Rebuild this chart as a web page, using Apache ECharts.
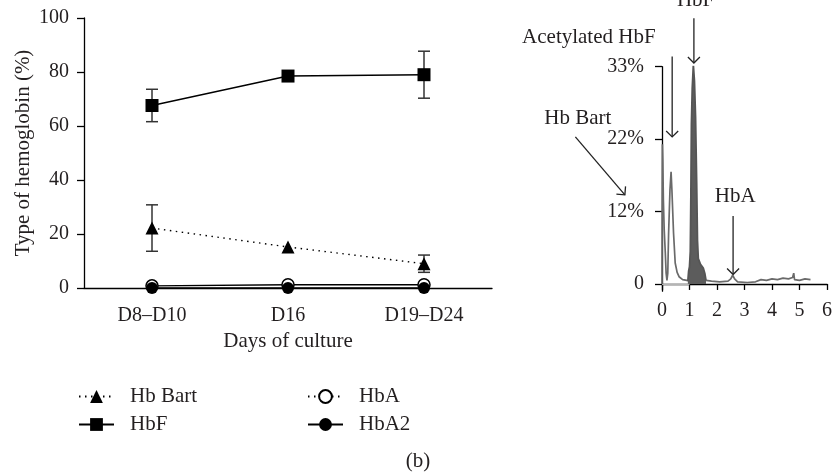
<!DOCTYPE html>
<html>
<head>
<meta charset="utf-8">
<script src="https://cdn.jsdelivr.net/npm/echarts@6/dist/echarts.min.js"></script>
<style>
  html, body { margin: 0; padding: 0; background: #fff; }
  #chart { width: 835px; height: 475px; }
</style>
</head>
<body>
<div id="chart"></div>
<script>
// Hemoglobin composition over the culture period (%)
const days = ['D8–D10', 'D16', 'D19–D24'];
const hbBart = [22.2, 15.2, 9.0];
const hbBartErr = [8.6, 0, 3.2];
const hbF = [67.6, 78.5, 79.0];
const hbFErr = [6.0, 0, 8.7];
const hbA = [0.8, 1.2, 1.2];
const hbA2 = [0, 0, 0];

// HPLC chromatogram (x: minutes, y: scale steps 0..3)
const peakScaleLabels = ['0', '12%', '22%', '33%'];
const traceEarly = [[0, 0], [0.005, 1.0], [0.015, 1.93], [0.03, 1.7], [0.05, 1.16], [0.08, 0.75],
  [0.12, 0.43], [0.15, 0.15], [0.18, 0.05], [0.21, 0.15], [0.24, 0.7], [0.29, 1.3], [0.33, 1.55],
  [0.36, 1.3], [0.42, 0.7], [0.48, 0.29], [0.55, 0.16], [0.62, 0.1], [0.75, 0.06], [0.9, 0.05], [0.94, 0.04]];
const traceHbF = [[0.94, 0.04], [0.97, 0.18], [1.0, 0.24], [1.03, 0.45], [1.05, 1.2], [1.07, 2.2],
  [1.1, 2.7], [1.14, 3.02], [1.18, 2.8], [1.22, 2.3], [1.26, 1.4], [1.29, 0.6], [1.32, 0.35],
  [1.4, 0.27], [1.5, 0.22], [1.56, 0.14], [1.6, 0.05]];
const traceLate = [[1.6, 0.05], [1.8, 0.04], [2.1, 0.03], [2.4, 0.04], [2.5, 0.07], [2.57, 0.12],
  [2.64, 0.07], [2.75, 0.03], [3.1, 0.02], [3.4, 0.03], [3.6, 0.06], [3.8, 0.05], [4.0, 0.07],
  [4.2, 0.06], [4.4, 0.08], [4.6, 0.07], [4.75, 0.09], [4.79, 0.15], [4.82, 0.06], [5.0, 0.05],
  [5.2, 0.07], [5.4, 0.06]];

// Peak labels and arrows, in chromatogram coordinates
const peakLabels = [
  { text: 'HbF', at: [1.22, 3.92] },
  { text: 'Acetylated HbF', at: [-2.66, 3.40] },
  { text: 'Hb Bart', at: [-3.06, 2.29] },
  { text: 'HbA', at: [2.66, 1.21] }
];
const peakArrows = [
  { from: [1.16, 3.67], to: [1.16, 3.05] },
  { from: [0.37, 3.14], to: [0.37, 2.03] },
  { from: [-3.15, 2.03], to: [-1.35, 1.23] },
  { from: [2.585, 0.94], to: [2.585, 0.13] }
];

const FONT = '"Liberation Serif", "Times New Roman", serif';
const INK = '#231f20';
const numText = { fontFamily: FONT, fontSize: 20, color: INK };
const wordText = { fontFamily: FONT, fontSize: 21, color: INK };

const errRows = [];
hbBart.forEach((v, i) => { if (hbBartErr[i] > 0) errRows.push([i, v, hbBartErr[i]]); });
hbF.forEach((v, i) => { if (hbFErr[i] > 0) errRows.push([i, v, hbFErr[i]]); });

function renderErrorBar(params, api) {
  const i = api.value(0), v = api.value(1), e = api.value(2);
  const top = api.coord([i, v + e]);
  const bot = api.coord([i, v - e]);
  const w = 6;
  const style = { stroke: '#333', lineWidth: 1.5 };
  return {
    type: 'group',
    children: [
      { type: 'line', shape: { x1: top[0], y1: top[1], x2: bot[0], y2: bot[1] }, style },
      { type: 'line', shape: { x1: top[0] - w, y1: top[1], x2: top[0] + w, y2: top[1] }, style },
      { type: 'line', shape: { x1: bot[0] - w, y1: bot[1], x2: bot[0] + w, y2: bot[1] }, style }
    ]
  };
}

const traceStyle = { color: '#6a6a6a', width: 1.7 };

const chart = echarts.init(document.getElementById('chart'));
chart.setOption({
  animation: false,
  backgroundColor: '#fff',
  textStyle: { fontFamily: FONT },
  grid: [
    { left: 84, top: 18, width: 408, height: 270 },
    { left: 662, top: 66.7, width: 167, height: 224.5 }
  ],
  xAxis: [
    {
      gridIndex: 0, type: 'category', data: days, boundaryGap: true,
      axisLine: { lineStyle: { color: '#000', width: 1.3 } },
      axisTick: { show: false },
      axisLabel: Object.assign({ margin: 18 }, numText),
      name: 'Days of culture', nameLocation: 'middle', nameGap: 43,
      nameTextStyle: wordText
    },
    {
      gridIndex: 1, type: 'value', min: 0, max: 6, interval: 1,
      axisLine: { lineStyle: { color: '#000', width: 1.3 } },
      axisTick: { show: true, length: 6, lineStyle: { color: '#000', width: 1.3 } },
      axisLabel: Object.assign({ margin: 10 }, numText),
      splitLine: { show: false }
    }
  ],
  yAxis: [
    {
      gridIndex: 0, type: 'value', min: 0, max: 100, interval: 20,
      axisLine: { show: true, lineStyle: { color: '#000', width: 1.3 } },
      axisTick: { show: true, length: 7, lineStyle: { color: '#000', width: 1.3 } },
      axisLabel: Object.assign({ margin: 15 }, numText),
      splitLine: { show: false },
      name: 'Type of hemoglobin (%)', nameLocation: 'middle', nameGap: 50,
      nameTextStyle: wordText
    },
    {
      gridIndex: 1, type: 'value', min: -0.1, max: 3,
      axisLine: { show: true, lineStyle: { color: '#000', width: 1.3 } },
      axisTick: { show: true, length: 7, customValues: [0, 1, 2, 3], lineStyle: { color: '#000', width: 1.3 } },
      axisLabel: Object.assign({
        margin: 18, customValues: [0, 1, 2, 3],
        formatter: v => peakScaleLabels[Math.round(v)]
      }, numText),
      splitLine: { show: false }
    }
  ],
  legend: [
    {
      data: [{ name: 'Hb Bart' }, { name: 'HbF' }],
      orient: 'vertical', left: 78, top: 386, padding: 0,
      itemWidth: 35, itemHeight: 16, itemGap: 7,
      textStyle: Object.assign({ padding: [0, 0, 0, 11] }, wordText)
    },
    {
      data: [{ name: 'HbA', lineStyle: { type: [1.5, 4.5] } }, { name: 'HbA2' }],
      orient: 'vertical', left: 307, top: 386, padding: 0,
      itemWidth: 35, itemHeight: 16, itemGap: 7,
      textStyle: Object.assign({ padding: [0, 0, 0, 11] }, wordText)
    }
  ],
  series: [
    {
      type: 'custom', name: 'error', xAxisIndex: 0, yAxisIndex: 0, z: 1,
      renderItem: renderErrorBar, data: errRows, silent: true
    },
    {
      name: 'Hb Bart', type: 'line', xAxisIndex: 0, yAxisIndex: 0, z: 3,
      data: hbBart, symbol: 'triangle', symbolSize: 13,
      itemStyle: { color: '#000' },
      lineStyle: { color: '#000', width: 1.4, type: [1.5, 4.5] }
    },
    {
      name: 'HbF', type: 'line', xAxisIndex: 0, yAxisIndex: 0, z: 3,
      data: hbF, symbol: 'rect', symbolSize: 13,
      itemStyle: { color: '#000' },
      lineStyle: { color: '#000', width: 1.4 }
    },
    {
      name: 'HbA', type: 'line', xAxisIndex: 0, yAxisIndex: 0, z: 3,
      data: hbA, symbol: 'circle', symbolSize: 12,
      itemStyle: { color: '#fff', borderColor: '#000', borderWidth: 1.5 },
      lineStyle: { color: '#000', width: 1.3 }
    },
    {
      name: 'HbA2', type: 'line', xAxisIndex: 0, yAxisIndex: 0, z: 4,
      data: hbA2, symbol: 'circle', symbolSize: 12,
      itemStyle: { color: '#000' },
      lineStyle: { color: '#000', width: 1.3 }
    },
    {
      type: 'line', xAxisIndex: 1, yAxisIndex: 1, data: traceEarly,
      symbol: 'none', lineStyle: traceStyle, silent: true,
      markLine: {
        silent: true, symbol: 'none', label: { show: false },
        lineStyle: { color: '#b5b5b5', width: 1.2, type: 'solid' },
        data: [[{ coord: [0, 0] }, { coord: [1.0, 0] }]]
      }
    },
    {
      type: 'line', xAxisIndex: 1, yAxisIndex: 1, data: traceHbF,
      symbol: 'none', lineStyle: { color: '#555', width: 1.8 }, silent: true,
      areaStyle: { color: '#5c5c5c', opacity: 1 }
    },
    {
      type: 'line', xAxisIndex: 1, yAxisIndex: 1, data: traceLate,
      symbol: 'none', lineStyle: traceStyle, silent: true
    }
  ]
});

// Peak annotations drawn on top of the chromatogram
function px(p) { return chart.convertToPixel({ gridIndex: 1 }, p); }
const rot = (x, y, th) => [x * Math.cos(th) - y * Math.sin(th), x * Math.sin(th) + y * Math.cos(th)];
const graphics = [];
peakLabels.forEach(l => {
  const p = px(l.at);
  graphics.push({
    type: 'text', x: p[0], y: p[1], silent: true,
    style: { text: l.text, font: '21px ' + FONT, fill: INK, align: 'center', verticalAlign: 'middle' }
  });
});
peakArrows.forEach(a => {
  const f = px(a.from), t = px(a.to);
  const dx = t[0] - f[0], dy = t[1] - f[1];
  const len = Math.hypot(dx, dy);
  const ux = dx / len, uy = dy / len;
  const L = 8.5, ang = Math.PI / 4;
  const a1 = rot(-ux, -uy, ang), a2 = rot(-ux, -uy, -ang);
  const style = { stroke: '#222', lineWidth: 1.3, fill: null };
  graphics.push({ type: 'line', silent: true, shape: { x1: f[0], y1: f[1], x2: t[0], y2: t[1] }, style });
  graphics.push({
    type: 'polyline', silent: true,
    shape: { points: [[t[0] + a1[0] * L, t[1] + a1[1] * L], [t[0], t[1]], [t[0] + a2[0] * L, t[1] + a2[1] * L]] },
    style
  });
});
graphics.push({
  type: 'text', x: 418, y: 461, silent: true,
  style: { text: '(b)', font: '21px ' + FONT, fill: INK, align: 'center', verticalAlign: 'middle' }
});
chart.setOption({ graphic: graphics });
</script>
</body>
</html>
